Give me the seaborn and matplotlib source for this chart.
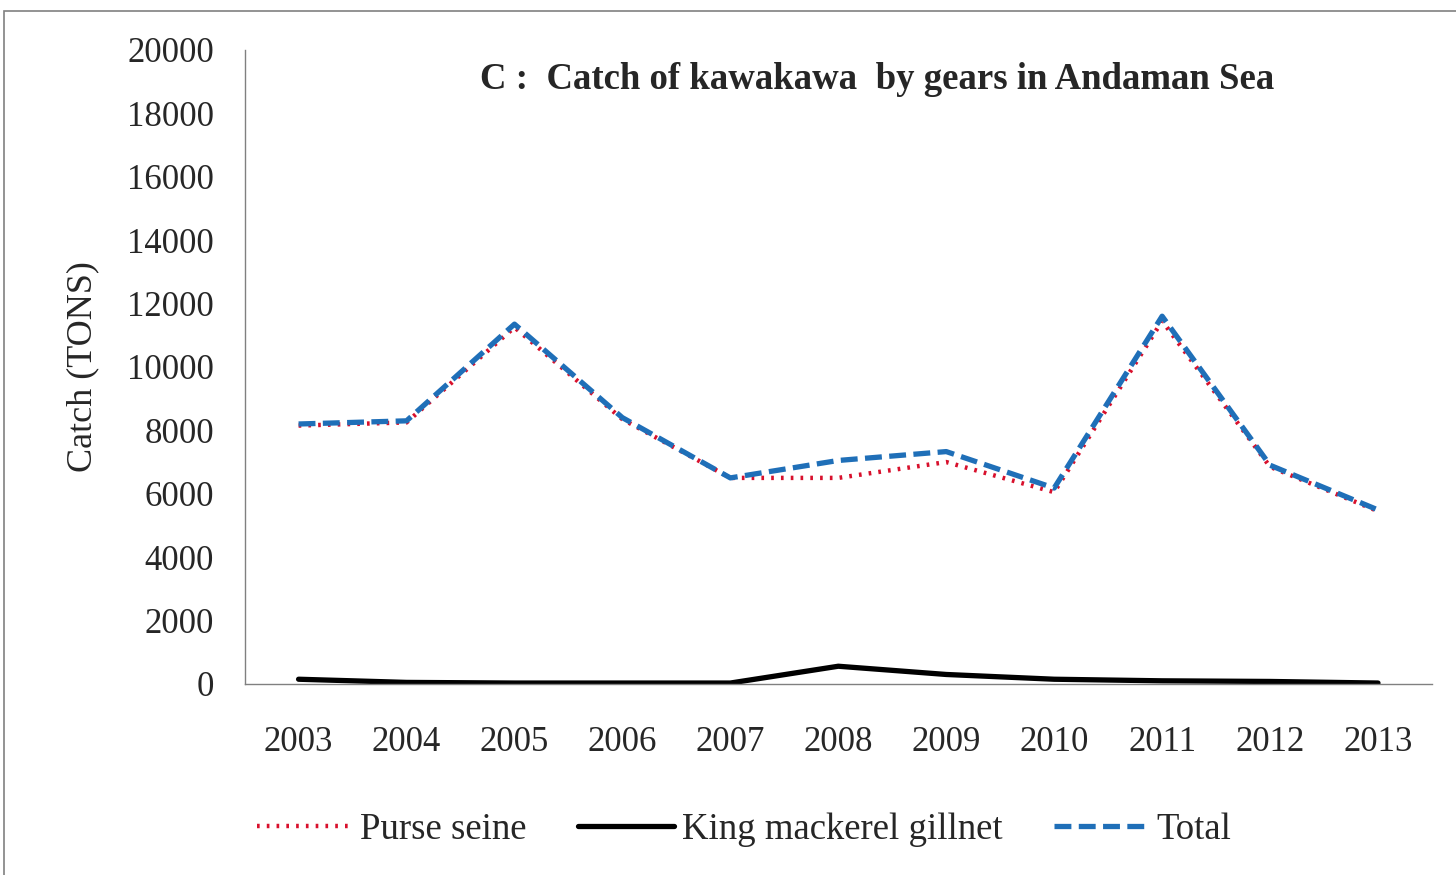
import pandas as pd
import matplotlib.pyplot as plt
import seaborn as sns
from matplotlib.patches import Rectangle

years = ['2003', '2004', '2005', '2006', '2007', '2008', '2009', '2010', '2011', '2012', '2013']
purse_seine = [8150, 8250, 11250, 8350, 6500, 6500, 7000, 6050, 11450, 6850, 5450]
gillnet = [150, 50, 30, 30, 30, 560, 300, 150, 100, 80, 30]
total = [8200, 8300, 11350, 8400, 6500, 7050, 7330, 6180, 11600, 6900, 5490]

df = pd.DataFrame({'pos': range(len(years)), 'year': years,
                   'Purse seine': purse_seine,
                   'King mackerel gillnet': gillnet,
                   'Total': total})

sns.set_style('white')
plt.rcParams['font.family'] = ['Liberation Serif', 'DejaVu Serif']

fig = plt.figure(figsize=(14.56, 8.75), dpi=100)
ax = fig.add_axes([0.168, 0.2183, 0.8155, 0.7247])

sns.lineplot(data=df, x='pos', y='Purse seine', ax=ax, color='#d8102c',
             linestyle=(0, (0.6, 1.6)), linewidth=3.2, label='Purse seine')
sns.lineplot(data=df, x='pos', y='King mackerel gillnet', ax=ax, color='black',
             linewidth=3.8, label='King mackerel gillnet')
sns.lineplot(data=df, x='pos', y='Total', ax=ax, color='#1f6fb8',
             linestyle=(0, (3.2, 1.4)), linewidth=3.8, label='Total')

ax.set_xlim(-0.5, len(years) - 0.5)
ax.set_ylim(0, 20000)
ax.set_yticks(range(0, 20001, 2000))
ax.set_xticks(range(len(years)))
ax.set_xticklabels(years)
ax.set_xticks([i - 0.5 for i in range(len(years) + 1)], minor=True)
ax.tick_params(axis='x', which='major', length=0, pad=30, labelsize=25)
ax.tick_params(axis='x', which='minor', length=8, width=1, color='#808080', direction='out')
ax.tick_params(axis='y', length=8, width=1, color='#808080', direction='out', labelsize=25, pad=14)
for s in ['top', 'right']:
    ax.spines[s].set_visible(False)
for s in ['left', 'bottom']:
    ax.spines[s].set_color('#808080')
    ax.spines[s].set_linewidth(1)

ax.set_xlabel('')
ax.set_ylabel('Catch (TONS)', fontsize=26, labelpad=20)
ax.text(0.533, 0.953, 'C :  Catch of kawakawa  by gears in Andaman Sea',
        transform=ax.transAxes, ha='center', va='center',
        fontsize=26.5, fontweight='bold')

ax.legend(loc='center', bbox_to_anchor=(0.421, -0.23), ncol=3, frameon=False,
          fontsize=26.5, handlelength=2.6, handletextpad=0.2, columnspacing=1.4)

fig.patches.append(Rectangle((0.003, -0.01), 1.2, 0.998, transform=fig.transFigure,
                             fill=False, edgecolor='#808080', linewidth=1.2))

fig.savefig('out.png', dpi=100)
